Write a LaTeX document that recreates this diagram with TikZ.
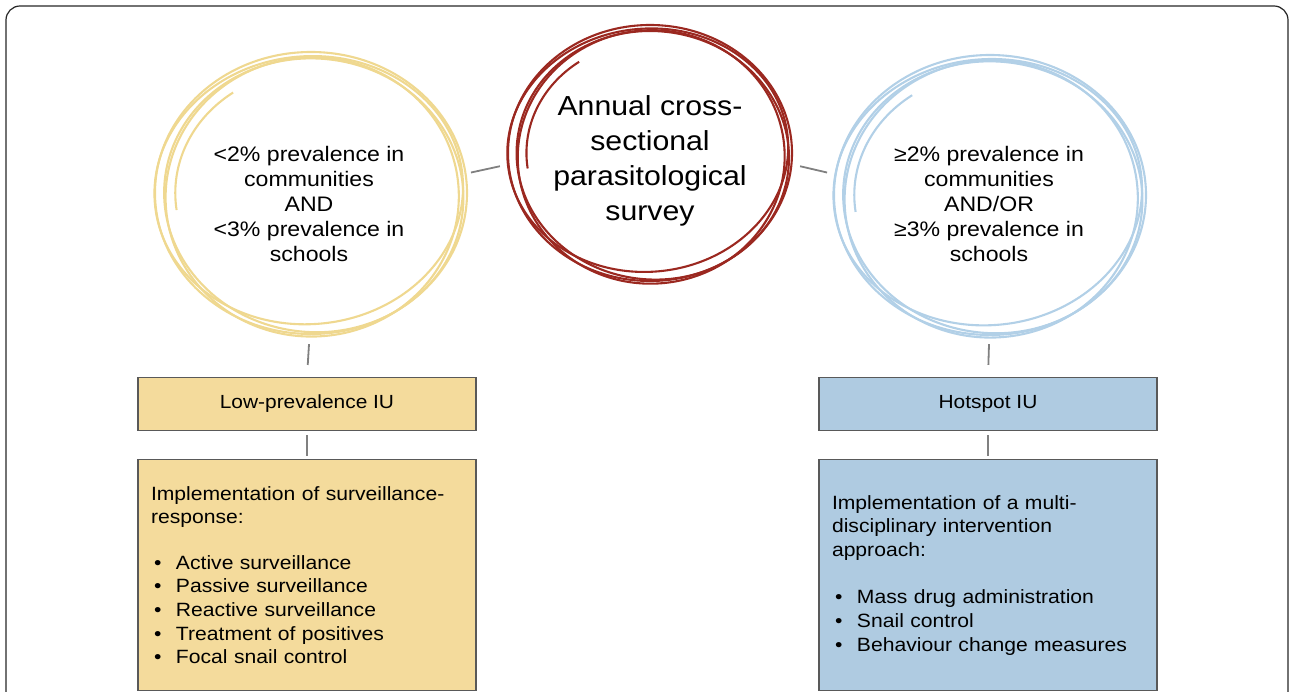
\documentclass[tikz,border=0pt]{standalone}
\usepackage{fontspec}
\setmainfont[FakeStretch=1.1]{Liberation Sans}
\usetikzlibrary{positioning,shapes.geometric}

\definecolor{ringyellow}{HTML}{EFD890}
\definecolor{boxyellow}{HTML}{F4DB9C}
\definecolor{ringblue}{HTML}{B2D0E7}
\definecolor{boxblue}{HTML}{AFCBE1}
\definecolor{ringred}{HTML}{9B2820}

\tikzset{
  bubble/.style={ellipse, inner sep=0pt, align=center, minimum width=332pt,
    minimum height=280pt, font=\fontsize{21pt}{25pt}\selectfont},
  iubox/.style={rectangle, draw=gray!70!black, line width=1.1pt,
    minimum width=338pt, minimum height=53pt, font=\fontsize{19pt}{23pt}\selectfont},
  actbox/.style={iubox, minimum height=231pt, text width=312pt, inner xsep=13pt,
    align=left, font=\fontsize{19.2pt}{23.6pt}\selectfont},
  link/.style={draw=gray, line width=1.8pt},
}

% hand-drawn loop: centre, colour, x radius, y radius
\newcommand{\sketchring}[4]{%
  \foreach \dx/\dy/\sx/\sy/\rot in {0/0/1/1/0, 3/2/0.96/0.97/-6,
      -2/-3/0.99/0.95/5, 1/4/0.94/0.99/3}
    \draw[#2, line width=2.1pt, rotate around={\rot:(#1)}]
      ([shift={(\dx,\dy)}]#1) ellipse [x radius=\sx*#3, y radius=\sy*#4];
  \draw[#2, line width=2.1pt]
    ([shift={(235:0.87*#3 and 0.87*#4)}]#1)
    arc [start angle=235, end angle=172, x radius=0.87*#3, y radius=0.87*#4];
}
\newcommand{\bitem}[1]{\makebox[25pt][l]{\hspace{3pt}\textbullet}#1}

\begin{document}
\begin{tikzpicture}[x=1pt, y=-1pt]
  \useasboundingbox (0,0) rectangle (1290,692);

  % outer frame, open at the bottom
  \draw[black!85, line width=1.2pt, rounded corners=14pt]
    (6,720) |- (1288,6) -- (1288,720);

  % survey and the two outcomes
  \sketchring{311,193}{ringyellow}{156}{141}
  \sketchring{650,153}{ringred}{142}{128}
  \sketchring{990,195}{ringblue}{156}{140}

  \node[bubble] (low) at (309,204)
    {<2\% prevalence in\\communities\\AND\\<3\% prevalence in\\schools};
  \node[bubble, minimum width=300pt, minimum height=262pt,
    font=\fontsize{27.5pt}{35pt}\selectfont] (survey) at (650,161)
    {Annual cross-\\sectional\\parasitological\\survey};
  \node[bubble] (high) at (989,204)
    {≥2\% prevalence in\\communities\\AND/OR\\≥3\% prevalence in\\schools};

  % IU classes and responses
  \node[iubox, fill=boxyellow] (lowiu) at (307,404) {Low-prevalence IU};
  \node[actbox, fill=boxyellow, below=28pt of lowiu] (lowact)
    {Implementation of surveillance-\\response:\\[22pt]
     \bitem{Active surveillance}\\
     \bitem{Passive surveillance}\\
     \bitem{Reactive surveillance}\\
     \bitem{Treatment of positives}\\
     \bitem{Focal snail control}};

  \node[iubox, fill=boxblue] (highiu) at (988,404) {Hotspot IU};
  \node[actbox, fill=boxblue, below=28pt of highiu] (highact)
    {Implementation of a multi-\\disciplinary intervention\\approach:\\[24pt]
     \bitem{Mass drug administration}\\
     \bitem{Snail control}\\
     \bitem{Behaviour change measures}};

  % connectors
  \draw[link] (low.11) -- (survey.182);
  \draw[link] (survey.-2) -- (high.169);
  \draw[link, shorten >=12pt] (low.south) -- (lowiu.north);
  \draw[link, shorten >=12pt] (high.south) -- (highiu.north);
  \draw[link, shorten <=4pt, shorten >=3pt] (lowiu.south) -- (lowact.north);
  \draw[link, shorten <=4pt, shorten >=3pt] (highiu.south) -- (highact.north);
\end{tikzpicture}
\end{document}
